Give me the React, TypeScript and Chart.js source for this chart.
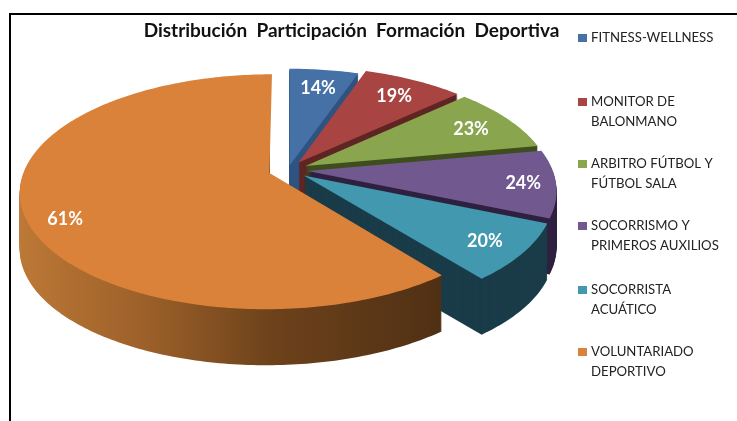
import React, { useEffect, useRef } from "react";
import { Chart, registerables } from "chart.js";

Chart.register(...registerables);

const categories = [
  ["FITNESS-WELLNESS"],
  ["MONITOR DE", "BALONMANO"],
  ["ARBITRO FÚTBOL Y", "FÚTBOL SALA"],
  ["SOCORRISMO Y", "PRIMEROS AUXILIOS"],
  ["SOCORRISTA", "ACUÁTICO"],
  ["VOLUNTARIADO", "DEPORTIVO"],
];
// Visible sweep of each slice (degrees)
const sliceSweep = [19, 28, 32.5, 33.5, 28.5, 218.5];
// Printed labels
const percentLabels = [14, 19, 23, 24, 20, 61];

const topColors = ["#4571A6", "#A84542", "#89A54E", "#71588F", "#4198AF", "#DA813A"];
const sideColors = ["#2F5380", "#5F2624", "#3F4E1E", "#2F2140", "#1A3C49", "#8A5326"];
const explode = [0.04, 0.08, 0.08, 0.08, 0.08, 0.08];
const labelRadius = [0.8, 0.81, 0.81, 0.87, 0.84, 0.86];
const labelTurn = [0, 0, 0, 0, 0, -5.7];
const legendY = [38, 102, 164, 226, 290, 352];

const CX = 288, CY = 170, RX = 245, RY = 113.5, K = 0.159, DEPTH = 56;
const project = (u: number, v: number) => {
  const w = 1 - K * v;
  return { x: CX + (RX * u) / w, y: CY + (RY * v) / w };
};

function slicePoints(start: number, end: number, e: number) {
  const mid = (start + end) / 2;
  const ox = Math.cos(mid) * e, oy = Math.sin(mid) * e;
  const pts = [project(ox, oy)];
  const n = Math.max(8, Math.ceil((end - start) * 60));
  for (let i = 0; i <= n; i++) {
    const a = start + ((end - start) * i) / n;
    pts.push(project(ox + Math.cos(a), oy + Math.sin(a)));
  }
  return pts;
}

function fillPts(ctx: CanvasRenderingContext2D, pts: { x: number; y: number }[], dy: number) {
  ctx.beginPath();
  pts.forEach((p, i) => (i ? ctx.lineTo(p.x, p.y + dy) : ctx.moveTo(p.x, p.y + dy)));
  ctx.closePath();
  ctx.fill();
}

const pie3d = {
  id: "pie3d",
  beforeDatasetsDraw(chart: any) {
    const ctx: CanvasRenderingContext2D = chart.ctx;
    const arcs = chart.getDatasetMeta(0).data;
    arcs.forEach((arc: any, i: number) => {
      const pts = slicePoints(arc.startAngle, arc.endAngle, explode[i]);
      ctx.save();
      if (i === 5) {
        const g = ctx.createLinearGradient(20, 0, 440, 0);
        g.addColorStop(0, "#BC7836");
        g.addColorStop(0.3, "#9C6029");
        g.addColorStop(0.6, "#6D421B");
        g.addColorStop(1, "#503014");
        ctx.fillStyle = g;
        // the back cut face of the big slice faces away from the viewer
        ctx.beginPath();
        ctx.rect(0, 0, chart.width, chart.height);
        ctx.rect(pts[0].x, 0, chart.width, pts[0].y + 1);
        ctx.clip("evenodd");
      } else ctx.fillStyle = sideColors[i];
      for (let d = DEPTH; d > 0; d--) fillPts(ctx, pts, d);
      ctx.restore();
      ctx.fillStyle = topColors[i];
      fillPts(ctx, pts, 0);
    });
    ctx.save();
    ctx.fillStyle = "#fff";
    ctx.font = "bold 18px Lato";
    ctx.textAlign = "center";
    ctx.textBaseline = "middle";
    arcs.forEach((arc: any, i: number) => {
      const mid = (arc.startAngle + arc.endAngle) / 2 + (labelTurn[i] * Math.PI) / 180;
      const r = labelRadius[i];
      const p = project(Math.cos(mid) * (r + explode[i]), Math.sin(mid) * (r + explode[i]));
      ctx.fillText(percentLabels[i] + "%", p.x, p.y + 1.5);
    });
    ctx.restore();
    return false;
  },
  afterDraw(chart: any) {
    const ctx: CanvasRenderingContext2D = chart.ctx;
    ctx.save();
    ctx.fillStyle = "#000";
    ctx.fillRect(9, 13, 728, 2);
    ctx.fillRect(9, 13, 2, 408);
    ctx.font = "13.2px Lato";
    ctx.textBaseline = "middle";
    categories.forEach((lines, i) => {
      ctx.fillStyle = topColors[i];
      ctx.fillRect(578, legendY[i] - 4, 9, 8);
      ctx.fillStyle = "#222";
      lines.forEach((t, j) => ctx.fillText(t, 591, legendY[i] + j * 19.5));
    });
    ctx.restore();
  },
};

export default function App() {
  const ref = useRef<HTMLCanvasElement>(null);
  useEffect(() => {
    document.body.style.margin = "0";
    const chart = new Chart(ref.current!, {
      type: "pie",
      data: {
        labels: categories.map((c) => c.join(" ")),
        datasets: [{ data: sliceSweep, backgroundColor: topColors, borderWidth: 0 }],
      },
      options: {
        animation: false,
        responsive: false,
        layout: { padding: { top: 19, right: 34 } },
        plugins: {
          legend: { display: false },
          tooltip: { enabled: false },
          title: {
            display: true,
            text: "Distribución  Participación  Formación  Deportiva",
            color: "#111",
            font: { family: "Lato", size: 19, weight: "bold" },
            padding: 0,
          },
        },
      },
      plugins: [pie3d],
    } as any);
    return () => chart.destroy();
  }, []);
  return <canvas ref={ref} width={737} height={421} style={{ display: "block" }} />;
}
